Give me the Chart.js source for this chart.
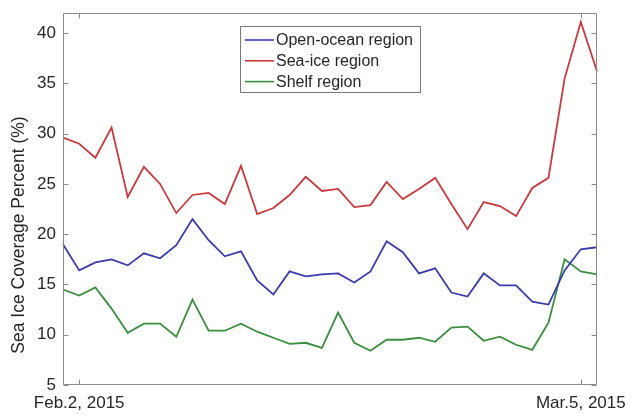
<!DOCTYPE html>
<html>
<head>
<meta charset="utf-8">
<script src="https://cdn.jsdelivr.net/npm/chart.js@4.4.1/dist/chart.umd.min.js"></script>
<style>
  html, body { margin: 0; padding: 0; background: #ffffff; }
  #wrap { width: 632px; height: 416px; }
</style>
</head>
<body>
<div id="wrap"><canvas id="c" width="632" height="416"></canvas></div>
<script>
// Daily sample dates, Feb 1 to Mar 6, 2015
const days = [];
for (let d = 1; d <= 28; d++) days.push('Feb.' + d + ', 2015');
for (let d = 1; d <= 6; d++) days.push('Mar.' + d + ', 2015');

// Date labels shown on the x axis
const shownDates = ['Feb.2, 2015', 'Mar.5, 2015'];

// Y axis tick values (%)
const yTicks = [5, 10, 15, 20, 25, 30, 35, 40];
const yTitle = 'Sea Ice Coverage Percent (%)';

// Sea ice coverage percent per region
const openOcean = [19.0, 16.4, 17.2, 17.5, 16.9, 18.1, 17.6, 18.9, 21.5, 19.4, 17.8, 18.3,
                   15.4, 14.0, 16.3, 15.8, 16.0, 16.1, 15.2, 16.3, 19.3, 18.2, 16.1, 16.6,
                   14.2, 13.8, 16.1, 14.9, 14.9, 13.3, 13.0, 16.4, 18.5, 18.7];
const seaIce    = [29.6, 29.0, 27.6, 30.6, 23.7, 26.7, 25.0, 22.1, 23.9, 24.1, 23.0, 26.8,
                   22.0, 22.6, 23.9, 25.7, 24.3, 24.5, 22.7, 22.9, 25.2, 23.5, 24.5, 25.6,
                   23.0, 20.5, 23.2, 22.8, 21.8, 24.6, 25.6, 35.5, 41.1, 36.2];
const shelf     = [14.5, 13.9, 14.7, 12.6, 10.2, 11.1, 11.1, 9.8, 13.5, 10.4, 10.4, 11.1,
                   10.3, 9.7, 9.1, 9.2, 8.7, 12.2, 9.2, 8.4, 9.5, 9.5, 9.7, 9.3,
                   10.7, 10.8, 9.4, 9.8, 9.0, 8.5, 11.2, 17.5, 16.3, 16.0];

const seriesNames = ['Open-ocean region', 'Sea-ice region', 'Shelf region'];
const seriesColors = ['#3b3bb0', '#c9393d', '#3a8f3e'];

const FONT = '"Liberation Sans", Arial, Helvetica, sans-serif';
const TEXT = '#262626';
const FRAME = '#8a8a8a';

// Box around the axes with inward tick marks on all four sides, the y title and the legend
const axesBox = {
  id: 'axesBox',
  afterDatasetsDraw(chart) {
    const { ctx, chartArea: a, scales } = chart;
    const L = Math.round(a.left) + 0.5, R = Math.round(a.right) - 0.5;
    const T = Math.round(a.top) + 0.5, B = Math.round(a.bottom) - 0.5;
    const tl = 5;
    ctx.save();
    ctx.strokeStyle = FRAME;
    ctx.lineWidth = 1;
    ctx.beginPath();
    ctx.rect(L, T, R - L, B - T);
    scales.y.ticks.forEach(t => {
      const y = Math.round(scales.y.getPixelForValue(t.value)) + 0.5;
      ctx.moveTo(L, y); ctx.lineTo(L + tl, y);
      ctx.moveTo(R, y); ctx.lineTo(R - tl, y);
    });
    scales.x.ticks.forEach(t => {
      const x = Math.round(scales.x.getPixelForValue(t.value)) + 0.5;
      ctx.moveTo(x, B); ctx.lineTo(x, B - tl);
      ctx.moveTo(x, T); ctx.lineTo(x, T + tl);
    });
    ctx.stroke();

    // y axis title
    ctx.save();
    ctx.translate(19, 235);
    ctx.rotate(-Math.PI / 2);
    ctx.font = '17.5px ' + FONT;
    ctx.fillStyle = TEXT;
    ctx.textAlign = 'center';
    ctx.textBaseline = 'middle';
    ctx.fillText(yTitle, 0, 0);
    ctx.restore();

    // legend
    const lx = 240.5, ly = 26.5, lw = 180, lh = 66;
    ctx.fillStyle = '#ffffff';
    ctx.fillRect(lx, ly, lw, lh);
    ctx.strokeStyle = '#7a7a7a';
    ctx.strokeRect(lx, ly, lw, lh);
    ctx.font = '16px ' + FONT;
    ctx.textBaseline = 'middle';
    chart.data.datasets.forEach((ds, i) => {
      const yy = 40 + i * 20.8;
      ctx.strokeStyle = ds.borderColor;
      ctx.lineWidth = 1.6;
      ctx.beginPath();
      ctx.moveTo(245, yy); ctx.lineTo(274, yy);
      ctx.stroke();
      ctx.fillStyle = TEXT;
      ctx.fillText(ds.label, 276, yy + 0.5);
    });
    ctx.restore();
  }
};

new Chart(document.getElementById('c'), {
  type: 'line',
  data: {
    labels: days,
    datasets: [openOcean, seaIce, shelf].map((vals, i) => ({
      label: seriesNames[i],
      data: vals,
      borderColor: seriesColors[i],
      backgroundColor: seriesColors[i],
      borderWidth: 1.8,
      pointRadius: 0,
      tension: 0,
      fill: false
    }))
  },
  options: {
    responsive: false,
    animation: false,
    devicePixelRatio: 1,
    layout: { padding: { top: 13, right: 35, left: 0, bottom: 0 } },
    plugins: {
      legend: { display: false },
      tooltip: { enabled: false }
    },
    scales: {
      x: {
        type: 'category',
        offset: false,
        grid: { display: false, drawTicks: false },
        border: { display: false },
        ticks: {
          autoSkip: false,
          maxRotation: 0,
          padding: 8,
          color: TEXT,
          font: { family: FONT, size: 17 }
        },
        afterBuildTicks(scale) {
          scale.ticks = shownDates.map(d => ({ value: days.indexOf(d) }));
        },
        afterFit(scale) {
          scale.height = 31;
          scale.paddingLeft = 0; scale.paddingRight = 0;
          scale.paddingTop = 0; scale.paddingBottom = 0;
        }
      },
      y: {
        min: 5,
        max: 42,
        grid: { display: false, drawTicks: false },
        border: { display: false },
        ticks: {
          padding: 7,
          color: TEXT,
          font: { family: FONT, size: 17 }
        },
        afterBuildTicks(scale) {
          scale.ticks = yTicks.map(v => ({ value: v }));
        },
        afterFit(scale) {
          scale.width = 63;
          scale.paddingLeft = 0; scale.paddingRight = 0;
          scale.paddingTop = 0; scale.paddingBottom = 0;
        }
      }
    }
  },
  plugins: [axesBox]
});
</script>
</body>
</html>
